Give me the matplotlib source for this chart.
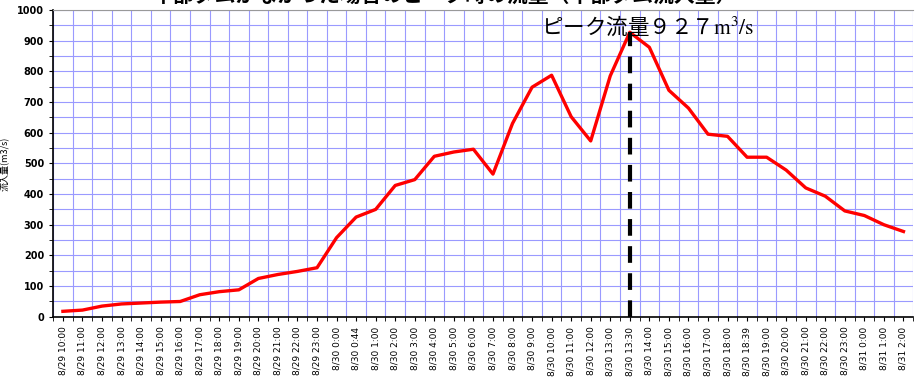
import numpy as np
import matplotlib.pyplot as plt
from matplotlib.ticker import MultipleLocator, FixedLocator

plt.rcParams['font.family'] = ['Noto Sans CJK JP', 'DejaVu Sans']

times = ['8/29 10:00', '8/29 11:00', '8/29 12:00', '8/29 13:00', '8/29 14:00',
         '8/29 15:00', '8/29 16:00', '8/29 17:00', '8/29 18:00', '8/29 19:00',
         '8/29 20:00', '8/29 21:00', '8/29 22:00', '8/29 23:00',
         '8/30 0:00', '8/30 0:44', '8/30 1:00', '8/30 2:00', '8/30 3:00',
         '8/30 4:00', '8/30 5:00', '8/30 6:00', '8/30 7:00', '8/30 8:00',
         '8/30 9:00', '8/30 10:00', '8/30 11:00', '8/30 12:00', '8/30 13:00',
         '8/30 13:30', '8/30 14:00', '8/30 15:00', '8/30 16:00', '8/30 17:00',
         '8/30 18:00', '8/30 18:39', '8/30 19:00', '8/30 20:00', '8/30 21:00',
         '8/30 22:00', '8/30 23:00', '8/31 0:00', '8/31 1:00', '8/31 2:00']
inflow = [18, 22, 35, 42, 45, 48, 50, 72, 82, 88,
          125, 138, 148, 160,
          258, 325, 350, 428, 447, 523, 537, 546, 465, 630,
          748, 787, 652, 573, 785, 927, 878, 738, 680, 595,
          588, 520, 520, 478, 420, 393, 345, 330, 300, 278]
peak_label = 'ピーク流量９２７$\\mathrm{m^3/s}$'
title = '中部ダムがなかった場合のピーク時の流量（中部ダム流入量）'

x = np.arange(len(times))
peak_i = int(np.argmax(inflow))

fig = plt.figure(figsize=(9.16, 3.79), dpi=100)
ax = fig.add_axes([0.058, 0.164, 0.939, 0.81])

ax.plot(x, inflow, color='#ff0000', lw=2.4, zorder=3)
ax.vlines(peak_i, 0, inflow[peak_i], color='black', lw=3, linestyles=(0, (4, 2.5)), zorder=4)

ax.set_xlim(-0.5, len(times) - 0.5)
ax.set_ylim(0, 1000)

ax.set_xticks(x)
ax.set_xticklabels(times, rotation=90, fontsize=6.5, fontfamily='DejaVu Sans')
ax.xaxis.set_minor_locator(FixedLocator(np.arange(-0.5, len(times), 1)))
ax.yaxis.set_major_locator(MultipleLocator(100))
ax.yaxis.set_minor_locator(MultipleLocator(50))
ax.tick_params(axis='y', labelsize=7, length=3)
ax.tick_params(axis='x', which='both', length=3, pad=4)
ax.tick_params(axis='y', which='minor', length=3)
for lab in ax.get_yticklabels():
    lab.set_fontweight('bold')
    lab.set_fontfamily('DejaVu Sans')

ax.grid(which='minor', axis='x', color='#9a9aff', lw=0.8)
ax.grid(which='both', axis='y', color='#9a9aff', lw=0.8)
ax.set_axisbelow(True)

ax.spines['right'].set_visible(False)
ax.spines['top'].set_color('#999999')
ax.spines['top'].set_linewidth(0.8)
ax.spines['left'].set_linewidth(1.2)
ax.spines['bottom'].set_linewidth(1.2)

ax.set_ylabel('流入量(m3/s)', fontsize=6.5, labelpad=6)

ax.text(peak_i + 0.9, 945, peak_label, fontsize=15.5, ha='center', va='center',
        math_fontfamily='stix', zorder=5)

# title sits mostly above the top edge, as in the source image
fig.text(0.485, 1.012, title, fontsize=15, fontweight='bold', ha='center', va='center')

fig.savefig('out.png', dpi=100)
